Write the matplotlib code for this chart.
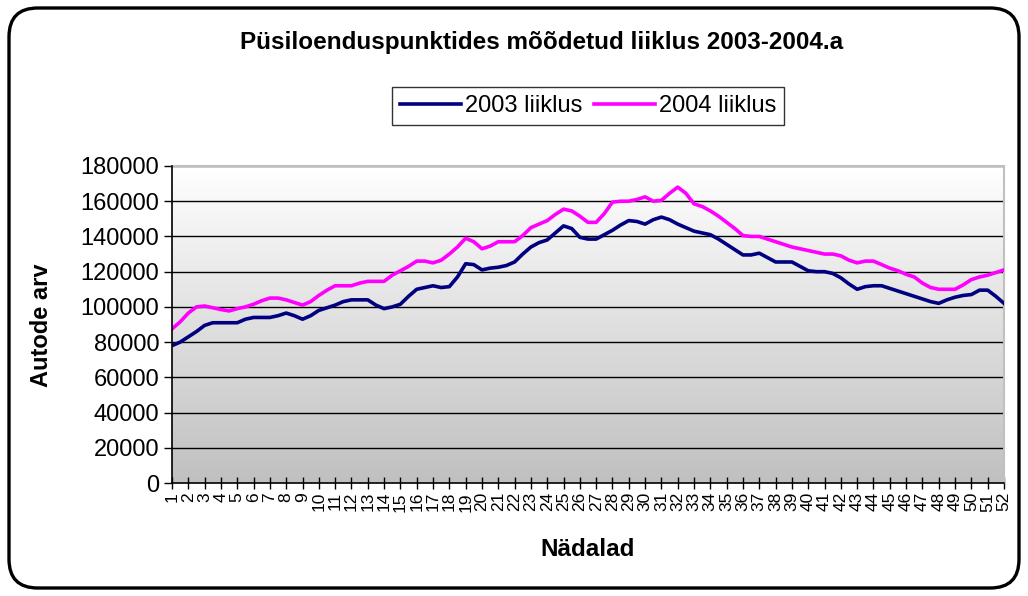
import numpy as np
import matplotlib
matplotlib.use("Agg")
import matplotlib.pyplot as plt
from matplotlib.patches import FancyBboxPatch
from matplotlib.lines import Line2D

plt.rcParams['font.family'] = ['Liberation Sans', 'DejaVu Sans']

# half-week sample positions (weeks 1..52)
weeks = [1 + 0.5 * i for i in range(103)]
week_labels = [str(i) for i in range(1, 53)]

traffic_2003 = [
    78000, 80000, 83000, 86000, 89500, 91000, 91000, 91000, 91000, 93000,
    94000, 94000, 94000, 95000, 96500, 95000, 93000, 95000, 98000, 99500,
    101000, 103000, 104000, 104000, 104000, 101000, 99000, 100000, 101500, 106000,
    110000, 111000, 112000, 111000, 111500, 117000, 124500, 124000, 121000, 122000,
    122500, 123500, 125500, 130000, 134000, 136500, 138000, 142000, 146000, 144500,
    139500, 138500, 138500, 141000, 143500, 146500, 149000, 148500, 147000, 149500,
    151000, 149500, 147000, 145000, 143000, 142000, 141000, 138500, 135500, 132500,
    129500, 129500, 130500, 128000, 125500, 125500, 125500, 123000, 120500, 120000,
    120000, 119000, 116500, 113000, 110000, 111500, 112000, 112000, 110500, 109000,
    107500, 106000, 104500, 103000, 102000, 104000, 105500, 106500, 107000, 109500,
    109500, 106000, 102000]

traffic_2004 = [
    87500, 91500, 96500, 100000, 100500, 99500, 98500, 97700, 99000, 100000,
    101500, 103500, 105000, 105000, 104000, 102500, 101000, 103000, 106500, 109500,
    112000, 112000, 112000, 113500, 114500, 114500, 114500, 118000, 120500, 123000,
    126000, 126000, 125000, 126500, 130000, 134000, 139000, 137000, 133000, 134500,
    137000, 137000, 137000, 140500, 145000, 147000, 149000, 152500, 155500, 154500,
    151500, 148000, 148000, 153000, 159500, 160000, 160000, 161000, 162500, 160000,
    160500, 164500, 168000, 164500, 158500, 157000, 154500, 151500, 148000, 144500,
    140500, 140000, 140000, 138500, 137000, 135500, 134000, 133000, 132000, 131000,
    130000, 130000, 129000, 126500, 125000, 126000, 126000, 124000, 122000, 120500,
    118500, 117000, 113500, 111000, 110000, 110000, 110000, 112500, 115500, 117000,
    118000, 119500, 121000]

series_names = ["2003 liiklus", "2004 liiklus"]
series_colors = ["#000080", "#FF00FF"]
y_ticks = list(range(0, 180001, 20000))

W, H = 1028, 596
fig = plt.figure(figsize=(W / 100, H / 100), dpi=100)
fig.patch.set_facecolor("white")

# rounded chart border
border = FancyBboxPatch((9 / W, 8 / H), 1010 / W, 580 / H,
                        boxstyle="round,pad=0,rounding_size=0.028",
                        transform=fig.transFigure, fill=False,
                        edgecolor="black", linewidth=2.4, mutation_aspect=W / H)
fig.patches.append(border)

left, right, top, bottom = 172, 1004, 166, 483
ax = fig.add_axes([left / W, 1 - bottom / H, (right - left) / W, (bottom - top) / H])

# gradient background (white top -> grey bottom)
grad = np.linspace(1.0, 0.0, 256).reshape(-1, 1)
ax.imshow(grad, extent=[0, 1, 0, 1], transform=ax.transAxes, aspect="auto",
          cmap=matplotlib.colors.LinearSegmentedColormap.from_list(
              "g", ["#c0c0c0", "#ffffff"]), vmin=0, vmax=1, zorder=0)

ax.set_xlim(1, 52)
ax.set_ylim(0, 180000)

for v in y_ticks[1:]:
    ax.axhline(v, color="black", linewidth=1.0, zorder=1)

ax.plot(weeks, traffic_2003, color=series_colors[0], linewidth=2.6, zorder=3,
        solid_joinstyle="round")
ax.plot(weeks, traffic_2004, color=series_colors[1], linewidth=2.6, zorder=3,
        solid_joinstyle="round")

ax.set_yticks(y_ticks)
ax.set_yticklabels([str(v) for v in y_ticks], fontsize=17)
ax.set_xticks(range(1, 53))
ax.set_xticklabels(week_labels, rotation=90, fontsize=12.5, va="top", ha="center")
ax.tick_params(axis="y", direction="out", length=6, width=1, pad=3, colors="black")
ax.tick_params(axis="x", direction="inout", length=9, width=1, pad=2)

for s in ["top", "right"]:
    ax.spines[s].set_color("#c0c0c0")
    ax.spines[s].set_linewidth(1.5)
for s in ["left", "bottom"]:
    ax.spines[s].set_color("black")
    ax.spines[s].set_linewidth(1.2)
    ax.spines[s].set_zorder(4)

fig.text(542 / W, 1 - 42 / H, "Püsiloenduspunktides mõõdetud liiklus 2003-2004.a",
         ha="center", va="center", fontsize=17.5, fontweight="bold")
fig.text(42 / W, 1 - 325 / H, "Autode arv", rotation=90, ha="center", va="center",
         fontsize=17, fontweight="bold")
fig.text(588 / W, 1 - 550 / H, "Nädalad", ha="center", va="center",
         fontsize=17.5, fontweight="bold")

handles = [Line2D([0], [0], color=c, linewidth=2.6) for c in series_colors]
leg = fig.legend(handles, series_names, loc="center", bbox_to_anchor=(588 / W, 1 - 106 / H),
                 ncol=2, fontsize=17, frameon=True, fancybox=False, edgecolor="black",
                 handlelength=2.6, handletextpad=0.15, columnspacing=0.5, borderpad=0.35,
                 borderaxespad=0)
leg.get_frame().set_linewidth(1.0)

fig.savefig("out.png", dpi=100)
